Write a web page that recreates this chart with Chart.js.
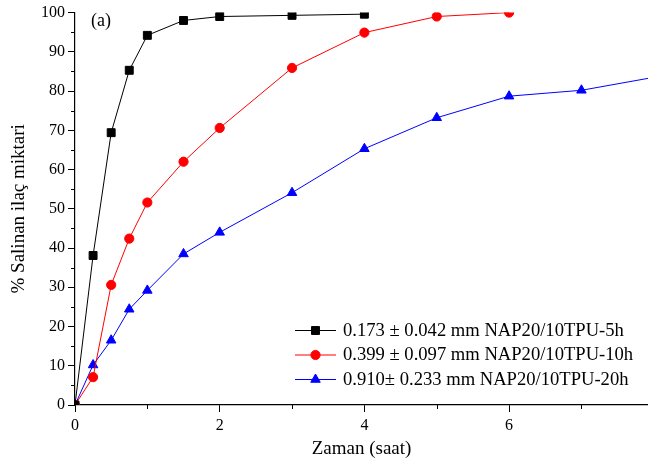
<!DOCTYPE html>
<html>
<head>
<meta charset="utf-8">
<script src="https://cdn.jsdelivr.net/npm/chart.js@4"></script>
<style>
  html, body { margin: 0; padding: 0; background: #fff; }
  #wrap { width: 648px; height: 464px; }
</style>
</head>
<body>
<div id="wrap"><canvas id="releaseChart"></canvas></div>
<script>
// zaman (saat) ve salinan ilac yuzdesi
const time5h = [0, 0.25, 0.5, 0.75, 1, 1.5, 2, 3, 4];
const release5h = [0, 38.1, 69.4, 85.3, 94.2, 98.0, 99.0, 99.3, 99.6];
const time10h = [0, 0.25, 0.5, 0.75, 1, 1.5, 2, 3, 4, 5, 6];
const release10h = [0, 7.1, 30.6, 42.4, 51.6, 62.0, 70.6, 85.9, 94.9, 99.0, 100];
const time20h = [0, 0.25, 0.5, 0.75, 1, 1.5, 2, 3, 4, 5, 6, 7, 8];
const release20h = [0, 10.2, 16.5, 24.4, 29.2, 38.5, 44.0, 54.1, 65.3, 73.2, 78.7, 80.2, 83.5];
const seriesLabels = [
    '0.173 \u00b1 0.042 mm NAP20/10TPU-5h',
    '0.399 \u00b1 0.097 mm NAP20/10TPU-10h',
    '0.910\u00b1 0.233 mm NAP20/10TPU-20h'
];
const xMinorTicks = [1, 3, 5, 7];
const yMinorTicks = [5, 15, 25, 35, 45, 55, 65, 75, 85, 95];

const serif = "'Liberation Serif', 'Times New Roman', serif";

function toPoints(xs, ys) {
    return xs.map((x, i) => ({ x: x, y: ys[i] }));
}

// kisa ara cizgiler, legend ve (a) etiketi
const extras = {
    id: 'extras',
    afterDraw(chart) {
        const ctx = chart.ctx;
        const xs = chart.scales.x;
        const ys = chart.scales.y;
        const area = chart.chartArea;
        ctx.save();
        ctx.strokeStyle = '#000';
        ctx.lineWidth = 1;
        ctx.beginPath();
        xMinorTicks.forEach(v => {
            const px = Math.round(xs.getPixelForValue(v)) + 0.5;
            ctx.moveTo(px, area.bottom);
            ctx.lineTo(px, area.bottom + 4);
        });
        yMinorTicks.forEach(v => {
            const py = Math.round(ys.getPixelForValue(v)) + 0.5;
            ctx.moveTo(area.left, py);
            ctx.lineTo(area.left - 4, py);
        });
        ctx.stroke();

        // legend
        ctx.font = '18.6px ' + serif;
        ctx.textBaseline = 'middle';
        ctx.fillStyle = '#000';
        chart.data.datasets.forEach((ds, i) => {
            const y = area.bottom - 75 + i * 24.5;
            const x0 = area.left + 220;
            ctx.strokeStyle = ds.borderColor;
            ctx.lineWidth = 1;
            ctx.beginPath();
            ctx.moveTo(x0, y + 0.5);
            ctx.lineTo(x0 + 41, y + 0.5);
            ctx.stroke();
            ctx.fillStyle = ds.pointBackgroundColor;
            ctx.strokeStyle = ds.borderColor;
            Chart.helpers.drawPoint(ctx, {
                pointStyle: ds.pointStyle,
                radius: ds.pointRadius,
                rotation: 0,
                borderWidth: 1
            }, x0 + 20.5, y + 0.5);
            ctx.fillStyle = '#000';
            ctx.fillText(ds.label, x0 + 48, y + 1);
        });

        ctx.font = '18px ' + serif;
        ctx.fillText('(a)', area.left + 16, area.top + 9);
        ctx.restore();
    }
};

const ctx = document.getElementById('releaseChart').getContext('2d');
new Chart(ctx, {
    type: 'line',
    data: {
        datasets: [
            {
                label: seriesLabels[0],
                data: toPoints(time5h, release5h),
                borderColor: '#000000',
                backgroundColor: '#000000',
                pointBackgroundColor: '#000000',
                pointStyle: 'rect',
                pointRadius: 5.6,
                borderWidth: 1
            },
            {
                label: seriesLabels[1],
                data: toPoints(time10h, release10h),
                borderColor: '#ff0000',
                backgroundColor: '#ff0000',
                pointBackgroundColor: '#ff0000',
                pointStyle: 'circle',
                pointRadius: 4.6,
                borderWidth: 1
            },
            {
                label: seriesLabels[2],
                data: toPoints(time20h, release20h),
                borderColor: '#0000ff',
                backgroundColor: '#0000ff',
                pointBackgroundColor: '#0000ff',
                pointStyle: 'triangle',
                pointRadius: 5.5,
                borderWidth: 1
            }
        ]
    },
    options: {
        responsive: true,
        maintainAspectRatio: false,
        animation: false,
        events: [],
        layout: { autoPadding: false, padding: { top: 11, right: 0, left: 0, bottom: 0 } },
        plugins: {
            legend: { display: false },
            tooltip: { enabled: false }
        },
        scales: {
            x: {
                type: 'linear',
                min: 0,
                max: 7.92,
                afterFit: scale => { scale.height = 59; },
                afterBuildTicks: scale => {
                    scale.ticks = scale.ticks.filter(t => Number.isInteger(t.value));
                },
                ticks: {
                    stepSize: 1,
                    padding: 4,
                    color: '#000',
                    font: { family: serif, size: 16 },
                    maxRotation: 0,
                    autoSkip: false,
                    callback: v => (v % 2 === 0 ? String(v) : '')
                },
                grid: {
                    drawOnChartArea: false,
                    tickLength: 7,
                    tickColor: c => (c.tick && c.tick.value % 2 === 0 ? '#000' : 'rgba(0,0,0,0)')
                },
                border: { color: '#000', width: 1.2 },
                title: {
                    display: true,
                    text: 'Zaman (saat)',
                    color: '#000',
                    font: { family: serif, size: 19 },
                    padding: { top: 0, bottom: 4 }
                }
            },
            y: {
                min: 0,
                max: 100,
                afterFit: scale => { scale.width = 75; },
                ticks: {
                    stepSize: 10,
                    padding: 3,
                    color: '#000',
                    font: { family: serif, size: 16 }
                },
                grid: {
                    drawOnChartArea: false,
                    tickLength: 7,
                    tickColor: '#000'
                },
                border: { color: '#000', width: 1.2 },
                title: {
                    display: true,
                    text: '% Salinan ila\u00e7 miktari',
                    color: '#000',
                    font: { family: serif, size: 19 },
                    padding: { top: 8, bottom: 0 }
                }
            }
        }
    },
    plugins: [extras]
});
</script>
</body>
</html>
